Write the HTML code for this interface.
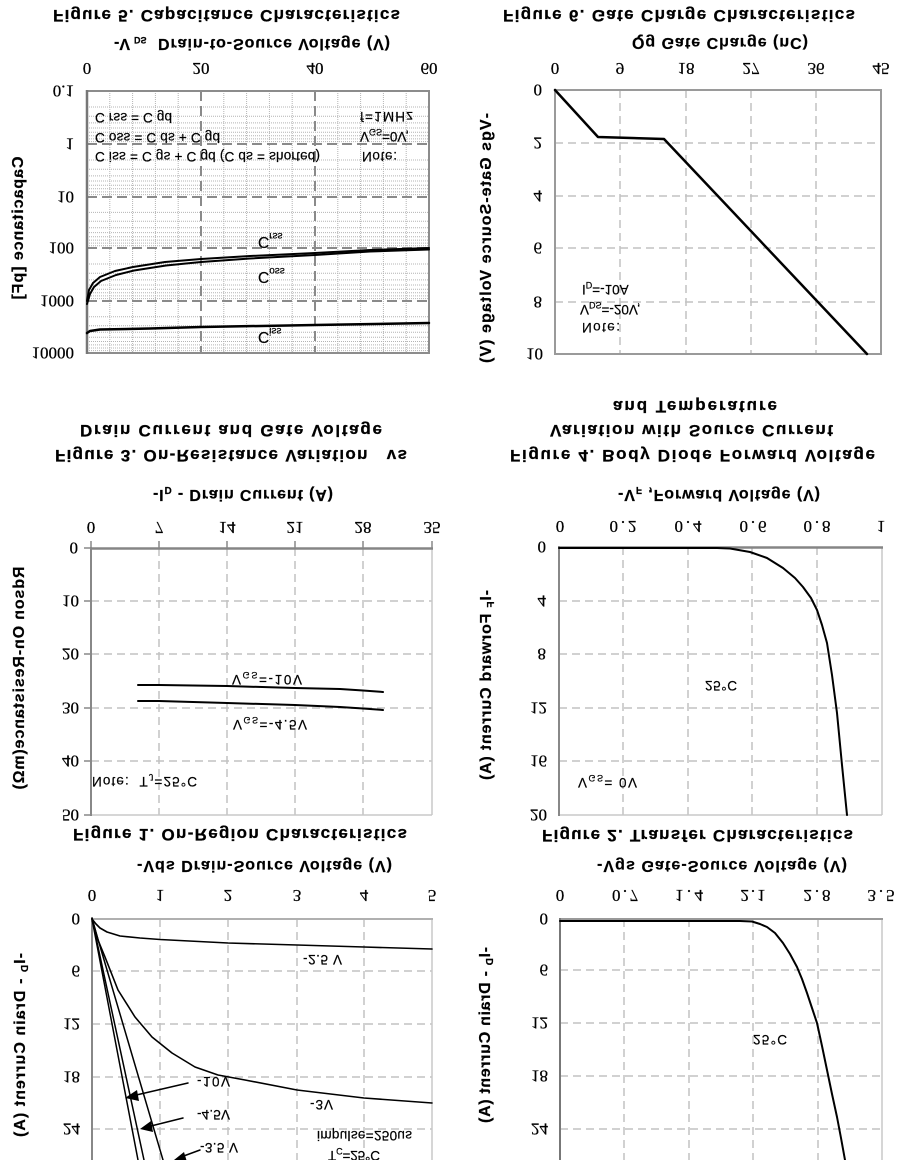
<!DOCTYPE html>
<html>
<head>
<meta charset="utf-8">
<style>
html,body{margin:0;padding:0;background:#fff;}
body{width:907px;height:1160px;overflow:hidden;position:relative;}
svg{position:absolute;left:0;top:0;}
.t{font-family:"Liberation Sans",Arial,sans-serif;font-weight:bold;font-size:17px;fill:#000;stroke:#000;stroke-width:0.25;}
.xl{font-family:"Liberation Sans",Arial,sans-serif;font-weight:bold;font-size:16px;fill:#000;stroke:#000;stroke-width:0.2;}
.tk{font-family:"Liberation Serif","Times New Roman",serif;font-size:17px;fill:#000;stroke:#000;stroke-width:0.25;}
.an{font-family:"Liberation Sans",Arial,sans-serif;font-size:13.5px;fill:#000;stroke:#000;stroke-width:0.2;}
.g{stroke:#c2c2c2;stroke-width:1.5;stroke-dasharray:8 5;fill:none;}
.gm{stroke:#8a8a8a;stroke-width:2;stroke-dasharray:10 5;fill:none;}
.mn{stroke:#b4b4b4;stroke-width:1;stroke-dasharray:1 1;fill:none;}
.c{fill:none;stroke:#000;stroke-linejoin:round;stroke-linecap:round;}
</style>
</head>
<body>
<svg width="907" height="1160" viewBox="0 0 907 1160" xmlns="http://www.w3.org/2000/svg">
<rect x="0" y="0" width="907" height="1160" fill="#fff"/>

<!-- ================= FIGURE 5 (top-left) ================= -->
<g>
  <g class="mn">
    <line x1="109.8" y1="91" x2="109.8" y2="353"/><line x1="132.6" y1="91" x2="132.6" y2="353"/>
    <line x1="155.4" y1="91" x2="155.4" y2="353"/><line x1="178.2" y1="91" x2="178.2" y2="353"/>
    <line x1="223.8" y1="91" x2="223.8" y2="353"/><line x1="246.6" y1="91" x2="246.6" y2="353"/>
    <line x1="269.4" y1="91" x2="269.4" y2="353"/><line x1="292.2" y1="91" x2="292.2" y2="353"/>
    <line x1="337.8" y1="91" x2="337.8" y2="353"/><line x1="360.6" y1="91" x2="360.6" y2="353"/>
    <line x1="383.4" y1="91" x2="383.4" y2="353"/><line x1="406.2" y1="91" x2="406.2" y2="353"/>
  </g>
  <g class="mn">
    <line x1="87" y1="107" x2="429" y2="107"/><line x1="87" y1="116.3" x2="429" y2="116.3"/><line x1="87" y1="122.9" x2="429" y2="122.9"/><line x1="87" y1="128" x2="429" y2="128"/><line x1="87" y1="132.2" x2="429" y2="132.2"/><line x1="87" y1="135.8" x2="429" y2="135.8"/><line x1="87" y1="138.9" x2="429" y2="138.9"/><line x1="87" y1="141.6" x2="429" y2="141.6"/>
    <line x1="87" y1="160" x2="429" y2="160"/><line x1="87" y1="169.3" x2="429" y2="169.3"/><line x1="87" y1="175.9" x2="429" y2="175.9"/><line x1="87" y1="181" x2="429" y2="181"/><line x1="87" y1="185.2" x2="429" y2="185.2"/><line x1="87" y1="188.8" x2="429" y2="188.8"/><line x1="87" y1="191.9" x2="429" y2="191.9"/><line x1="87" y1="194.6" x2="429" y2="194.6"/>
    <line x1="87" y1="212.4" x2="429" y2="212.4"/><line x1="87" y1="221.3" x2="429" y2="221.3"/><line x1="87" y1="227.7" x2="429" y2="227.7"/><line x1="87" y1="232.6" x2="429" y2="232.6"/><line x1="87" y1="236.7" x2="429" y2="236.7"/><line x1="87" y1="240.1" x2="429" y2="240.1"/><line x1="87" y1="243.1" x2="429" y2="243.1"/><line x1="87" y1="245.7" x2="429" y2="245.7"/>
    <line x1="87" y1="264" x2="429" y2="264"/><line x1="87" y1="273.3" x2="429" y2="273.3"/><line x1="87" y1="279.9" x2="429" y2="279.9"/><line x1="87" y1="285" x2="429" y2="285"/><line x1="87" y1="289.2" x2="429" y2="289.2"/><line x1="87" y1="292.8" x2="429" y2="292.8"/><line x1="87" y1="295.9" x2="429" y2="295.9"/><line x1="87" y1="298.6" x2="429" y2="298.6"/>
    <line x1="87" y1="316.7" x2="429" y2="316.7"/><line x1="87" y1="325.8" x2="429" y2="325.8"/><line x1="87" y1="332.3" x2="429" y2="332.3"/><line x1="87" y1="337.3" x2="429" y2="337.3"/><line x1="87" y1="341.5" x2="429" y2="341.5"/><line x1="87" y1="344.9" x2="429" y2="344.9"/><line x1="87" y1="348" x2="429" y2="348"/><line x1="87" y1="350.6" x2="429" y2="350.6"/>
  </g>
  <g class="gm">
    <line x1="87" y1="144" x2="429" y2="144"/><line x1="87" y1="197" x2="429" y2="197"/>
    <line x1="87" y1="248" x2="429" y2="248"/><line x1="87" y1="301" x2="429" y2="301"/>
    <line x1="201" y1="91" x2="201" y2="353"/><line x1="315" y1="91" x2="315" y2="353"/>
  </g>
  <rect x="87" y="91" width="342" height="262" fill="none" stroke="#8c8c8c" stroke-width="2"/>
  <line x1="87" y1="90" x2="87" y2="354" stroke="#777" stroke-width="2.5"/>
  <polyline class="c" stroke-width="2" points="87,301 89,290 93,283 100,277 115,271 133,267 165,262 201,259 250,256 315,253 370,250 429,248"/>
  <polyline class="c" stroke-width="2" points="87,304 90,294 94,287 101,281 116,275 134,270.5 166,265.5 201,262 250,258.5 315,255 370,251.5 429,249.5"/>
  <polyline class="c" stroke-width="2.5" points="87,333 90,331 100,329.5 150,328.5 201,327 315,325 429,323"/>
  <text class="t" transform="matrix(1 0 0 -1 53 10)" textLength="347" lengthAdjust="spacing">Figure 5. Capacitance Characteristics</text>
  <text class="xl" transform="matrix(1 0 0 -1 114 39)">-V</text>
  <text class="xl" style="font-size:9px" transform="matrix(1 0 0 -1 134 37)">DS</text>
  <text class="xl" transform="matrix(1 0 0 -1 158 39)" textLength="232" lengthAdjust="spacing">Drain-to-Source Voltage (V)</text>
  <text class="xl" transform="translate(23,228) scale(1,-1) rotate(-90)" text-anchor="middle" textLength="143" lengthAdjust="spacing">Capacitance [pF]</text>
  <g class="tk" text-anchor="middle">
    <text transform="matrix(1 0 0 -1 87 63)">0</text>
    <text transform="matrix(1 0 0 -1 201 63)">20</text>
    <text transform="matrix(1 0 0 -1 315 63)">40</text>
    <text transform="matrix(1 0 0 -1 429 63)">60</text>
  </g>
  <g class="tk" text-anchor="end">
    <text transform="matrix(1 0 0 -1 74 85.3)">0.1</text>
    <text transform="matrix(1 0 0 -1 74 138.3)">1</text>
    <text transform="matrix(1 0 0 -1 74 191.3)">10</text>
    <text transform="matrix(1 0 0 -1 74 242.3)">100</text>
    <text transform="matrix(1 0 0 -1 74 295.3)">1000</text>
    <text transform="matrix(1 0 0 -1 74 347.3)">10000</text>
  </g>
  <text class="an" transform="matrix(1 0 0 -1 95 113)" textLength="77" lengthAdjust="spacing">C rss = C gd</text>
  <text class="an" transform="matrix(1 0 0 -1 95 133)" textLength="125" lengthAdjust="spacing">C oss = C ds + C gd</text>
  <text class="an" transform="matrix(1 0 0 -1 95 152)" textLength="225" lengthAdjust="spacing" style="white-space:pre">C iss = C gs + C gd (C ds = shorted)</text>
  <text class="an" transform="matrix(1 0 0 -1 360 112)" textLength="53" lengthAdjust="spacing">f=1MHz</text>
  <text class="an" transform="matrix(1 0 0 -1 360 132)">V<tspan font-size="9" dy="3">GS</tspan><tspan dy="-3">=0V,</tspan></text>
  <text class="an" transform="matrix(1 0 0 -1 362 152)" textLength="35" lengthAdjust="spacing">Note:</text>
  <text class="an" style="font-size:15.5px" transform="matrix(1 0 0 -1 258 237)">C<tspan font-size="10" dy="4">rss</tspan></text>
  <text class="an" style="font-size:15.5px" transform="matrix(1 0 0 -1 258 272)">C<tspan font-size="10" dy="4">oss</tspan></text>
  <text class="an" style="font-size:15.5px" transform="matrix(1 0 0 -1 258 332)">C<tspan font-size="10" dy="4">iss</tspan></text>
</g>

<!-- ================= FIGURE 6 (top-right) ================= -->
<g>
  <g class="g">
    <line x1="620" y1="90" x2="620" y2="354"/><line x1="686" y1="90" x2="686" y2="354"/>
    <line x1="751" y1="90" x2="751" y2="354"/><line x1="816" y1="90" x2="816" y2="354"/>
    <line x1="555" y1="143" x2="881" y2="143"/><line x1="555" y1="196" x2="881" y2="196"/>
    <line x1="555" y1="248" x2="881" y2="248"/><line x1="555" y1="302" x2="881" y2="302"/>
  </g>
  <rect x="555" y="90" width="326" height="264" fill="none" stroke="#9a9a9a" stroke-width="2"/>
  <polyline class="c" stroke-width="2.5" points="555,90 598,137 664,139 867,354"/>
  <text class="t" transform="matrix(1 0 0 -1 503 10)" textLength="352" lengthAdjust="spacing">Figure 6. Gate Charge Characteristics</text>
  <text class="xl" transform="matrix(1 0 0 -1 632 38)" textLength="176" lengthAdjust="spacing">Qg Gate Charge (nC)</text>
  <text class="xl" transform="translate(491,238) scale(1,-1) rotate(-90)" text-anchor="middle" textLength="250" lengthAdjust="spacing">-Vgs Gate-Source Voltage (V)</text>
  <g class="tk" text-anchor="middle">
    <text transform="matrix(1 0 0 -1 555 63)">0</text>
    <text transform="matrix(1 0 0 -1 620 63)">9</text>
    <text transform="matrix(1 0 0 -1 686 63)">18</text>
    <text transform="matrix(1 0 0 -1 751 63)">27</text>
    <text transform="matrix(1 0 0 -1 816 63)">36</text>
    <text transform="matrix(1 0 0 -1 881 63)">45</text>
  </g>
  <g class="tk" text-anchor="end">
    <text transform="matrix(1 0 0 -1 542 84.3)">0</text>
    <text transform="matrix(1 0 0 -1 542 137.3)">2</text>
    <text transform="matrix(1 0 0 -1 542 190.3)">4</text>
    <text transform="matrix(1 0 0 -1 542 242.3)">6</text>
    <text transform="matrix(1 0 0 -1 542 296.3)">8</text>
    <text transform="matrix(1 0 0 -1 543 348.3)">10</text>
  </g>
  <text class="an" transform="matrix(1 0 0 -1 582 285)">I<tspan font-size="9" dy="3">D</tspan><tspan dy="-3">=-10A</tspan></text>
  <text class="an" transform="matrix(1 0 0 -1 580 305)">V<tspan font-size="9" dy="3">DS</tspan><tspan dy="-3">=-20V,</tspan></text>
  <text class="an" transform="matrix(1 0 0 -1 582 323)" textLength="38" lengthAdjust="spacing">Note:</text>
</g>

<!-- ================= FIGURE 3 (middle-left) ================= -->
<g>
  <g class="g">
    <line x1="159" y1="548" x2="159" y2="815"/><line x1="227" y1="548" x2="227" y2="815"/>
    <line x1="295" y1="548" x2="295" y2="815"/><line x1="363" y1="548" x2="363" y2="815"/>
    <line x1="91" y1="601" x2="432" y2="601"/><line x1="91" y1="654" x2="432" y2="654"/>
    <line x1="91" y1="708" x2="432" y2="708"/><line x1="91" y1="761" x2="432" y2="761"/>
  </g>
  <line x1="432" y1="548" x2="432" y2="815" stroke="#c8c8c8" stroke-width="1.5"/>
  <line x1="91" y1="815" x2="432" y2="815" stroke="#c8c8c8" stroke-width="1.5"/>
  <line x1="91" y1="547" x2="91" y2="816" stroke="#888" stroke-width="2"/>
  <line x1="90" y1="548.5" x2="433" y2="548.5" stroke="#858585" stroke-width="2.5"/>
  <g stroke="#888" stroke-width="1.5">
    <line x1="84" y1="548" x2="91" y2="548"/><line x1="84" y1="601" x2="91" y2="601"/><line x1="84" y1="654" x2="91" y2="654"/>
    <line x1="84" y1="708" x2="91" y2="708"/><line x1="84" y1="761" x2="91" y2="761"/><line x1="84" y1="815" x2="91" y2="815"/>
    <line x1="91" y1="541" x2="91" y2="548"/><line x1="159" y1="541" x2="159" y2="548"/><line x1="227" y1="541" x2="227" y2="548"/>
    <line x1="295" y1="541" x2="295" y2="548"/><line x1="363" y1="541" x2="363" y2="548"/><line x1="432" y1="541" x2="432" y2="548"/>
  </g>
  <polyline class="c" stroke-width="2" points="138,685 159,685 227,686 295,688 340,689 363,690.5 383,692"/>
  <polyline class="c" stroke-width="2" points="138,701 159,701 227,703 295,705 340,707 363,708.5 383,710"/>
  <text class="t" style="white-space:pre" transform="matrix(1 0 0 -1 55 450)" textLength="352" lengthAdjust="spacing">Figure 3. On-Resistance Variation   vs</text>
  <text class="t" transform="matrix(1 0 0 -1 80 425)" textLength="302" lengthAdjust="spacing">Drain Current and Gate Voltage</text>
  <text class="xl" transform="matrix(1 0 0 -1 153 490)" textLength="180" lengthAdjust="spacing">-I<tspan font-size="10" dy="3">D</tspan><tspan dy="-3"> - Drain Current (A)</tspan></text>
  <text class="xl" transform="translate(24,678) scale(1,-1) rotate(-90)" text-anchor="middle" textLength="223" lengthAdjust="spacing">Rdson On-Resistance(mΩ)</text>
  <g class="tk" text-anchor="middle">
    <text transform="matrix(1 0 0 -1 91 522)">0</text>
    <text transform="matrix(1 0 0 -1 159 522)">7</text>
    <text transform="matrix(1 0 0 -1 227 522)">14</text>
    <text transform="matrix(1 0 0 -1 295 522)">21</text>
    <text transform="matrix(1 0 0 -1 363 522)">28</text>
    <text transform="matrix(1 0 0 -1 432 522)">35</text>
  </g>
  <g class="tk" text-anchor="end">
    <text transform="matrix(1 0 0 -1 78 542.3)">0</text>
    <text transform="matrix(1 0 0 -1 79 595.3)">10</text>
    <text transform="matrix(1 0 0 -1 79 648.3)">20</text>
    <text transform="matrix(1 0 0 -1 79 702.3)">30</text>
    <text transform="matrix(1 0 0 -1 79 755.3)">40</text>
    <text transform="matrix(1 0 0 -1 79 809.3)">50</text>
  </g>
  <text class="an" transform="matrix(1 0 0 -1 232 675)" textLength="70" lengthAdjust="spacing">V<tspan font-size="9" dy="3">GS</tspan><tspan dy="-3">=-10V</tspan></text>
  <text class="an" transform="matrix(1 0 0 -1 233 720)" textLength="74" lengthAdjust="spacing">V<tspan font-size="9" dy="3">GS</tspan><tspan dy="-3">=-4.5V</tspan></text>
  <text class="an" style="white-space:pre" transform="matrix(1 0 0 -1 92 777)" textLength="105" lengthAdjust="spacing">Note:  T<tspan font-size="9" dy="3">J</tspan><tspan dy="-3">=25°C</tspan></text>
</g>

<!-- ================= FIGURE 4 (middle-right) ================= -->
<g>
  <g class="g">
    <line x1="623" y1="547" x2="623" y2="815"/><line x1="688" y1="547" x2="688" y2="815"/>
    <line x1="752" y1="547" x2="752" y2="815"/><line x1="817" y1="547" x2="817" y2="815"/>
    <line x1="559" y1="601" x2="882" y2="601"/><line x1="559" y1="654" x2="882" y2="654"/>
    <line x1="559" y1="708" x2="882" y2="708"/><line x1="559" y1="761" x2="882" y2="761"/>
  </g>
  <line x1="882" y1="547" x2="882" y2="815" stroke="#c8c8c8" stroke-width="1.5"/>
  <line x1="559" y1="815" x2="882" y2="815" stroke="#c8c8c8" stroke-width="1.5"/>
  <line x1="559" y1="546" x2="559" y2="816" stroke="#888" stroke-width="2"/>
  <line x1="558" y1="547.5" x2="883" y2="547.5" stroke="#858585" stroke-width="2.5"/>
  <polyline class="c" stroke="#333" stroke-width="2" points="559,548 717,548 730,548.5 750,552 767,558 783,568 795,578 803,587 811,598 817,610 822,625 827,643 832,675 837,713 842,765 847,815"/>
  <text class="t" transform="matrix(1 0 0 -1 510 450)" textLength="365" lengthAdjust="spacing">Figure 4. Body Diode Forward Voltage</text>
  <text class="t" transform="matrix(1 0 0 -1 550 425)" textLength="283" lengthAdjust="spacing">Variation with Source Current</text>
  <text class="t" transform="matrix(1 0 0 -1 613 401)" textLength="164" lengthAdjust="spacing">and Temperature</text>
  <text class="xl" transform="matrix(1 0 0 -1 618 490)" textLength="202" lengthAdjust="spacing">-V<tspan font-size="10" dy="3">F</tspan><tspan dy="-3"> ,Forward Voltage (V)</tspan></text>
  <text class="xl" transform="translate(491,685) scale(1,-1) rotate(-90)" text-anchor="middle" textLength="190" lengthAdjust="spacing">-I<tspan font-size="10" dy="3">F</tspan><tspan dy="-3"> Forward Current (A)</tspan></text>
  <g class="tk" text-anchor="middle">
    <text transform="matrix(1 0 0 -1 560 521)">0</text>
    <text transform="matrix(1 0 0 -1 623 521)" textLength="27" lengthAdjust="spacing">0.2</text>
    <text transform="matrix(1 0 0 -1 688 521)" textLength="27" lengthAdjust="spacing">0.4</text>
    <text transform="matrix(1 0 0 -1 753 521)" textLength="27" lengthAdjust="spacing">0.6</text>
    <text transform="matrix(1 0 0 -1 817 521)" textLength="27" lengthAdjust="spacing">0.8</text>
    <text transform="matrix(1 0 0 -1 881 521)">1</text>
  </g>
  <g class="tk" text-anchor="end">
    <text transform="matrix(1 0 0 -1 546 541.3)">0</text>
    <text transform="matrix(1 0 0 -1 546 595.3)">4</text>
    <text transform="matrix(1 0 0 -1 546 648.3)">8</text>
    <text transform="matrix(1 0 0 -1 547 702.3)">12</text>
    <text transform="matrix(1 0 0 -1 547 755.3)">16</text>
    <text transform="matrix(1 0 0 -1 547 809.3)">20</text>
  </g>
  <text class="an" transform="matrix(1 0 0 -1 705 681)" textLength="32" lengthAdjust="spacing">25°C</text>
  <text class="an" style="white-space:pre" transform="matrix(1 0 0 -1 578 778)" textLength="59" lengthAdjust="spacing">V<tspan font-size="9" dy="3">GS</tspan><tspan dy="-3">= 0V</tspan></text>
</g>

<!-- ================= FIGURE 1 (bottom-left) ================= -->
<g>
  <g class="g">
    <line x1="160" y1="919" x2="160" y2="1160"/><line x1="228" y1="919" x2="228" y2="1160"/>
    <line x1="297" y1="919" x2="297" y2="1160"/><line x1="364" y1="919" x2="364" y2="1160"/>
    <line x1="92" y1="971" x2="432" y2="971"/><line x1="92" y1="1024" x2="432" y2="1024"/>
    <line x1="92" y1="1077" x2="432" y2="1077"/><line x1="92" y1="1129" x2="432" y2="1129"/>
  </g>
  <line x1="432" y1="919" x2="432" y2="1160" stroke="#c8c8c8" stroke-width="1.5"/>
  <line x1="92" y1="919" x2="433" y2="919" stroke="#b0b0b0" stroke-width="2"/>
  <line x1="92" y1="918" x2="92" y2="1160" stroke="#888" stroke-width="2"/>
  <polyline class="c" stroke-width="1.6" points="92,919 96,924 100,928 107,932 120,936 140,938 160,939.5 228,943 297,945 364,947 432,949"/>
  <polyline class="c" stroke-width="1.6" points="92,918 98,940 105,957 118,990 135,1017 152,1037 172,1053 195,1067 218,1075 245,1080 297,1090 364,1098 432,1103"/>
  <line class="c" stroke-width="1.5" x1="92" y1="919" x2="138" y2="1160"/>
  <line class="c" stroke-width="1.5" x1="92" y1="919" x2="144" y2="1160"/>
  <line class="c" stroke-width="1.5" x1="92" y1="919" x2="163" y2="1160"/>
  <line class="c" stroke-width="1.5" x1="188" y1="1083" x2="132" y2="1096"/>
  <polygon points="125,1098 137,1090 139,1101" fill="#000"/>
  <line class="c" stroke-width="1.5" x1="183" y1="1118" x2="147" y2="1127"/>
  <polygon points="140,1129 151,1121 153,1132" fill="#000"/>
  <line class="c" stroke-width="1.5" x1="200" y1="1150" x2="181" y2="1157"/>
  <polygon points="174,1160 184,1152 187,1162" fill="#000"/>
  <text class="t" transform="matrix(1 0 0 -1 73 829)" textLength="334" lengthAdjust="spacing">Figure 1. On-Region Characteristics</text>
  <text class="xl" transform="matrix(1 0 0 -1 137 861)" textLength="255" lengthAdjust="spacing">-Vds Drain-Source Voltage (V)</text>
  <text class="xl" transform="translate(25,1045) scale(1,-1) rotate(-90)" text-anchor="middle" textLength="184" lengthAdjust="spacing">-I<tspan font-size="10" dy="3">D</tspan><tspan dy="-3"> - Drain Current (A)</tspan></text>
  <g class="tk" text-anchor="middle">
    <text transform="matrix(1 0 0 -1 92 890)">0</text>
    <text transform="matrix(1 0 0 -1 160 890)">1</text>
    <text transform="matrix(1 0 0 -1 228 890)">2</text>
    <text transform="matrix(1 0 0 -1 297 890)">3</text>
    <text transform="matrix(1 0 0 -1 364 890)">4</text>
    <text transform="matrix(1 0 0 -1 432 890)">5</text>
  </g>
  <g class="tk" text-anchor="end">
    <text transform="matrix(1 0 0 -1 80 913.3)">0</text>
    <text transform="matrix(1 0 0 -1 80 965.3)">6</text>
    <text transform="matrix(1 0 0 -1 80 1018.3)">12</text>
    <text transform="matrix(1 0 0 -1 80 1071.3)">18</text>
    <text transform="matrix(1 0 0 -1 80 1123.3)">24</text>
  </g>
  <text class="an" transform="matrix(1 0 0 -1 303 955)" textLength="39" lengthAdjust="spacing" style="white-space:pre">-2.5 V</text>
  <text class="an" transform="matrix(1 0 0 -1 310 1100)" textLength="23" lengthAdjust="spacing">-3V</text>
  <text class="an" transform="matrix(1 0 0 -1 197 1077)" textLength="33" lengthAdjust="spacing">-10V</text>
  <text class="an" transform="matrix(1 0 0 -1 197 1110)" textLength="33" lengthAdjust="spacing">-4.5V</text>
  <text class="an" transform="matrix(1 0 0 -1 200 1143)" textLength="38" lengthAdjust="spacing" style="white-space:pre">-3.5 V</text>
  <text class="an" transform="matrix(1 0 0 -1 317 1131)" textLength="95" lengthAdjust="spacing">impulse=250us</text>
  <text class="an" transform="matrix(1 0 0 -1 328 1151)" textLength="52" lengthAdjust="spacing">T<tspan font-size="9" dy="3">C</tspan><tspan dy="-3">=25°C</tspan></text>
</g>

<!-- ================= FIGURE 2 (bottom-right) ================= -->
<g>
  <g class="g">
    <line x1="624" y1="919" x2="624" y2="1160"/><line x1="689" y1="919" x2="689" y2="1160"/>
    <line x1="753" y1="919" x2="753" y2="1160"/><line x1="818" y1="919" x2="818" y2="1160"/>
    <line x1="560" y1="970" x2="882" y2="970"/><line x1="560" y1="1023" x2="882" y2="1023"/>
    <line x1="560" y1="1076" x2="882" y2="1076"/><line x1="560" y1="1129" x2="882" y2="1129"/>
  </g>
  <line x1="882" y1="919" x2="882" y2="1160" stroke="#c8c8c8" stroke-width="1.5"/>
  <line x1="560" y1="919" x2="883" y2="919" stroke="#999" stroke-width="2"/>
  <line x1="560" y1="918" x2="560" y2="1160" stroke="#777" stroke-width="2"/>
  <polyline class="c" stroke="#333" stroke-width="2" points="560,921 740,921 752,921.5 760,924 767,927 775,933 783,943 790,954 797,967 802,979 807,993 812,1008 817,1023 822,1046 827,1070 832,1094 837,1117 841,1138 845,1160"/>
  <text class="t" transform="matrix(1 0 0 -1 542 830)" textLength="311" lengthAdjust="spacing">Figure 2. Transfer Characteristics</text>
  <text class="xl" transform="matrix(1 0 0 -1 597 861)" textLength="250" lengthAdjust="spacing">-Vgs Gate-Source Voltage (V)</text>
  <text class="xl" transform="translate(490,1035) scale(1,-1) rotate(-90)" text-anchor="middle" textLength="176" lengthAdjust="spacing">-I<tspan font-size="10" dy="3">D</tspan><tspan dy="-3"> - Drain Current (A)</tspan></text>
  <g class="tk" text-anchor="middle">
    <text transform="matrix(1 0 0 -1 560 890)">0</text>
    <text transform="matrix(1 0 0 -1 625 890)" textLength="26" lengthAdjust="spacing">0.7</text>
    <text transform="matrix(1 0 0 -1 689 890)" textLength="28" lengthAdjust="spacing">1.4</text>
    <text transform="matrix(1 0 0 -1 753 890)" textLength="25" lengthAdjust="spacing">2.1</text>
    <text transform="matrix(1 0 0 -1 817 890)" textLength="27" lengthAdjust="spacing">2.8</text>
    <text transform="matrix(1 0 0 -1 881 890)" textLength="27" lengthAdjust="spacing">3.5</text>
  </g>
  <g class="tk" text-anchor="end">
    <text transform="matrix(1 0 0 -1 548 913.3)">0</text>
    <text transform="matrix(1 0 0 -1 548 964.3)">6</text>
    <text transform="matrix(1 0 0 -1 548 1017.3)">12</text>
    <text transform="matrix(1 0 0 -1 548 1070.3)">18</text>
    <text transform="matrix(1 0 0 -1 548 1123.3)">24</text>
  </g>
  <text class="an" transform="matrix(1 0 0 -1 753 1035)" textLength="34" lengthAdjust="spacing">25°C</text>
</g>
</svg>
</body>
</html>
